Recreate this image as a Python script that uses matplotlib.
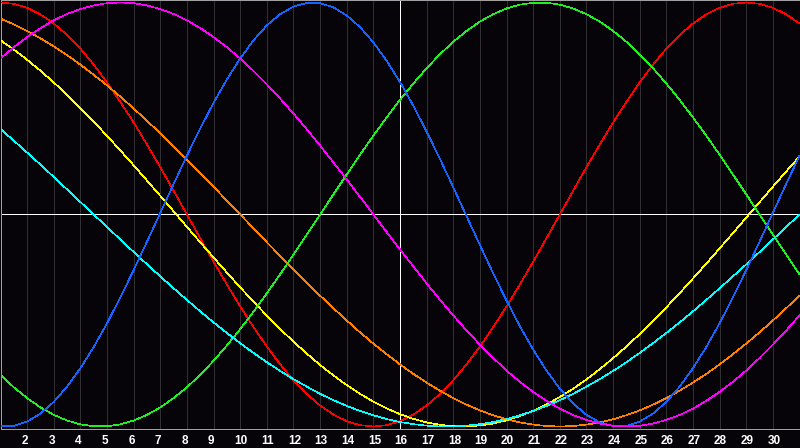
import matplotlib
matplotlib.use("Agg")
import matplotlib.pyplot as plt
import numpy as np

# Days shown on the chart (x axis) and half-day sample positions
days = list(range(1, 32))
tick_days = list(range(2, 31))
samples = [1 + 0.5 * i for i in range(61)]

red = [100.0,99.4,97.5,94.4,90.1,84.7,78.2,70.7,62.3,53.1,43.4,33.0,22.3,11.2,0.0,
       -11.2,-22.3,-33.0,-43.4,-53.1,-62.3,-70.7,-78.2,-84.7,-90.1,-94.4,-97.5,-99.4,-100.0,
       -99.4,-97.5,-94.4,-90.1,-84.7,-78.2,-70.7,-62.3,-53.1,-43.4,-33.0,-22.3,-11.2,0.0,
       11.2,22.3,33.0,43.4,53.1,62.3,70.7,78.2,84.7,90.1,94.4,97.5,99.4,100.0,
       99.4,97.5,94.4,90.1]
blue = [-99.8,-99.7,-97.7,-93.9,-88.4,-81.2,-72.5,-62.5,-51.3,-39.1,-26.2,-12.8,0.8,14.4,27.8,40.6,52.7,63.7,73.6,82.2,89.2,94.5,98.1,99.8,99.7,97.7,93.9,88.4,81.2,72.5,62.5,51.3,39.1,26.2,12.8,-0.8,-14.4,-27.8,-40.6,-52.7,-63.7,-73.6,-82.2,-89.2,-94.5,-98.1,-99.8,-99.7,-97.7,-93.9,-88.4,-81.2,-72.5,-62.5,-51.3,-39.1,-26.2,-12.8,0.8,14.4,27.8]
green = [-75.6,-81.5,-86.6,-91.0,-94.5,-97.2,-99.0,-99.9,-99.9,-99.0,-97.2,-94.5,-91.0,-86.6,-81.5,-75.6,-69.0,-61.8,-54.1,-45.8,-37.2,-28.2,-18.9,-9.5,0.0,9.5,18.9,28.2,37.2,45.8,54.1,61.8,69.0,75.6,81.5,86.6,91.0,94.5,97.2,99.0,99.9,99.9,99.0,97.2,94.5,91.0,86.6,81.5,75.6,69.0,61.8,54.1,45.8,37.2,28.2,18.9,9.5,0.0,-9.5,-18.9,-28.2]
magenta = [73.6,78.9,83.7,87.9,91.6,94.6,96.9,98.6,99.7,100.0,99.7,98.6,96.9,94.6,91.6,87.9,83.7,78.9,73.6,67.7,61.4,54.7,47.6,40.2,32.5,24.5,16.5,8.3,-0.0,-8.3,-16.5,-24.5,-32.5,-40.2,-47.6,-54.7,-61.4,-67.7,-73.6,-78.9,-83.7,-87.9,-91.6,-94.6,-96.9,-98.6,-99.7,-100.0,-99.7,-98.6,-96.9,-94.6,-91.6,-87.9,-83.7,-78.9,-73.6,-67.7,-61.4,-54.7,-47.6]
orange = [92.4,89.7,86.6,83.1,79.3,75.2,70.7,65.9,60.9,55.6,50.0,44.2,38.3,32.1,25.9,19.5,13.1,6.5,-0.0,-6.5,-13.1,-19.5,-25.9,-32.1,-38.3,-44.2,-50.0,-55.6,-60.9,-65.9,-70.7,-75.2,-79.3,-83.1,-86.6,-89.7,-92.4,-94.7,-96.6,-98.1,-99.1,-99.8,-100.0,-99.8,-99.1,-98.1,-96.6,-94.7,-92.4,-89.7,-86.6,-83.1,-79.3,-75.2,-70.7,-65.9,-60.9,-55.6,-50.0,-44.2,-38.3]
yellow = [82.2,77.8,73.0,67.8,62.3,56.4,50.2,43.8,37.1,30.2,23.2,16.0,8.8,1.5,-5.8,-13.1,-20.3,-27.4,-34.4,-41.1,-47.7,-54.0,-60.0,-65.6,-71.0,-75.9,-80.5,-84.6,-88.3,-91.5,-94.2,-96.4,-98.1,-99.2,-99.9,-100.0,-99.5,-98.6,-97.1,-95.1,-92.6,-89.6,-86.1,-82.2,-77.8,-73.0,-67.8,-62.3,-56.4,-50.2,-43.8,-37.1,-30.2,-23.2,-16.0,-8.8,-1.5,5.8,13.1,20.3,27.4]
cyan = [40.3,34.8,29.2,23.5,17.7,11.8,5.9,-0.0,-5.9,-11.8,-17.7,-23.5,-29.2,-34.8,-40.3,-45.7,-50.9,-55.9,-60.7,-65.3,-69.7,-73.8,-77.7,-81.2,-84.6,-87.6,-90.3,-92.7,-94.7,-96.5,-97.9,-98.9,-99.6,-100.0,-100.0,-99.6,-98.9,-97.9,-96.5,-94.7,-92.7,-90.3,-87.6,-84.6,-81.2,-77.7,-73.8,-69.7,-65.3,-60.7,-55.9,-50.9,-45.7,-40.3,-34.8,-29.2,-23.5,-17.7,-11.8,-5.9,0.0]

series = [
    (red, "#ff0000"),
    (orange, "#ff8000"),
    (yellow, "#ffff00"),
    (green, "#20f020"),
    (cyan, "#00ffff"),
    (blue, "#1464ff"),
    (magenta, "#ff00ff"),
]

BG = "#060408"
W, H = 800, 448
fig = plt.figure(figsize=(W / 100, H / 100), dpi=100, facecolor=BG)
ax = fig.add_axes([0.5 / W, (H - 428.5) / H, 799 / W, 428 / H], facecolor=BG)
ax.set_xlim(days[0], days[-1])
ax.set_ylim(-100.95, 100.95)

for d in tick_days:
    ax.axvline(d, color="#303032", lw=0.5, antialiased=False, zorder=1)
ax.axvline(16, color="#ffffff", lw=0.5, antialiased=False, zorder=2)
ax.axhline(0, color="#ffffff", lw=0.5, antialiased=False, zorder=2)

for vals, col in series:
    ax.plot(samples, vals, color=col, lw=0.45, antialiased=False, zorder=3)

ax.set_xticks([])
ax.set_yticks([])
for s in ax.spines.values():
    s.set_color("#a0a0a0")
    s.set_linewidth(0.72)
    s.set_antialiased(False)

for d in tick_days:
    ax.annotate(str(d), xy=(d, 0), xycoords=ax.get_xaxis_transform(),
                xytext=(-5.5, -15.5), textcoords="offset pixels",
                ha="left", va="baseline", color="white",
                fontsize=8.5, fontweight="bold", family=["Liberation Sans", "DejaVu Sans"],
                annotation_clip=False)

fig.savefig("out.png", dpi=100, facecolor=BG)
